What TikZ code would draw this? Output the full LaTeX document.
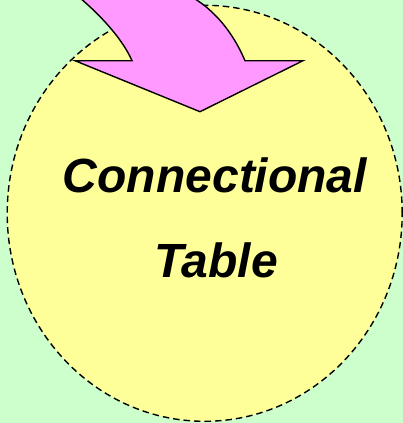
\documentclass[tikz,border=0pt]{standalone}
\usepackage{fontspec}
\setmainfont{Liberation Sans}
\usetikzlibrary{shapes.geometric}
\definecolor{bggreen}{HTML}{CCFFCC}
\definecolor{blobyellow}{HTML}{FFFF99}
\definecolor{arrowpink}{HTML}{FF99FF}
\tikzset{
  blob/.style={ellipse, draw=black, dash pattern=on 6.5pt off 4pt, line width=1.4pt, fill=blobyellow, minimum width=395pt, minimum height=416pt, inner sep=0pt},
  label/.style={font=\fontsize{48}{48}\selectfont\bfseries\itshape, anchor=base, inner sep=0pt},
  bigarrow/.style={draw=black, line width=1.4pt, fill=arrowpink, line join=miter}
}
\begin{document}
\begin{tikzpicture}[x=1pt,y=1pt]
\useasboundingbox (0,0) rectangle (403,-423);
\clip (0,0) rectangle (403,-423);
\fill[bggreen] (0,0) rectangle (403,-423);
\node[blob] (circ) at (204.7,-213.3) {};
\draw[bigarrow] (79,3) .. controls (100,-15) and (122,-38) .. (132,-60.7)
  -- (75,-60.7) -- (200,-111.7) -- (303,-60.7) -- (245,-60.7)
  .. controls (232,-30) and (212,-8) .. (190,4) -- cycle;
\node[label] (t1) at (215,-192) {Connectional};
\node[label] (t2) at (216,-277) {Table};
\end{tikzpicture}
\end{document}
